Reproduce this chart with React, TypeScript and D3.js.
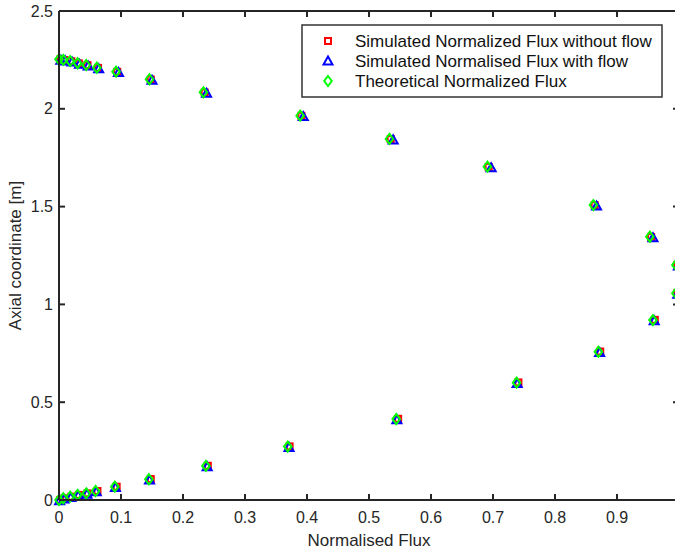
import React from "react";
import * as d3 from "d3";

// Axial positions [m] (theoretical nodes)
const axialTheory = [0, 0.009, 0.017, 0.026, 0.034, 0.046, 0.068, 0.106, 0.174, 0.273, 0.414, 0.600, 0.758, 0.920, 1.057, 1.201, 1.346, 1.508, 1.704, 1.846, 1.965, 2.084, 2.151, 2.190, 2.210, 2.224, 2.233, 2.244, 2.250, 2.253];
const fluxTheory = [0, 0.007, 0.018, 0.030, 0.044, 0.059, 0.090, 0.145, 0.237, 0.369, 0.544, 0.738, 0.870, 0.958, 0.995, 0.995, 0.953, 0.862, 0.691, 0.533, 0.389, 0.233, 0.146, 0.092, 0.061, 0.044, 0.030, 0.018, 0.007, 0.000];

const axialNoFlow = [0, 0.009, 0.017, 0.026, 0.034, 0.046, 0.068, 0.107, 0.175, 0.274, 0.415, 0.601, 0.759, 0.921, 1.057, 1.200, 1.345, 1.507, 1.703, 1.845, 1.964, 2.083, 2.150, 2.189, 2.209, 2.223, 2.232, 2.243, 2.249, 2.252];
const fluxNoFlow = [0.002, 0.009, 0.020, 0.032, 0.046, 0.062, 0.093, 0.148, 0.240, 0.372, 0.547, 0.741, 0.873, 0.961, 0.997, 0.997, 0.955, 0.864, 0.693, 0.535, 0.391, 0.235, 0.148, 0.094, 0.063, 0.046, 0.032, 0.020, 0.009, 0.002];

const axialWithFlow = [-0.004, 0.005, 0.013, 0.022, 0.030, 0.042, 0.064, 0.102, 0.170, 0.269, 0.410, 0.596, 0.754, 0.916, 1.052, 1.196, 1.341, 1.503, 1.699, 1.841, 1.960, 2.079, 2.146, 2.185, 2.205, 2.219, 2.228, 2.239, 2.245, 2.248];
const fluxWithFlow = [0.001, 0.008, 0.019, 0.031, 0.045, 0.060, 0.091, 0.146, 0.239, 0.371, 0.545, 0.739, 0.872, 0.960, 0.998, 0.999, 0.958, 0.867, 0.697, 0.539, 0.394, 0.238, 0.150, 0.096, 0.064, 0.047, 0.033, 0.021, 0.010, 0.003];

const xTicks = [0, 0.1, 0.2, 0.3, 0.4, 0.5, 0.6, 0.7, 0.8, 0.9, 1];
const xTickLabels = ["0", "0.1", "0.2", "0.3", "0.4", "0.5", "0.6", "0.7", "0.8", "0.9", "1"];
const yTicks = [0, 0.5, 1, 1.5, 2, 2.5];
const yTickLabels = ["0", "0.5", "1", "1.5", "2", "2.5"];
const legendLabels = [
  "Simulated Normalized Flux without flow",
  "Simulated Normalised Flux with flow",
  "Theoretical Normalized Flux",
];

const W = 675;
const H = 552;
const FONT = "'Liberation Sans', Arial, Helvetica, sans-serif";
const AX = "#262626";

const x = d3.scaleLinear().domain([0, 1]).range([59, 679]);
const y = d3.scaleLinear().domain([0, 2.5]).range([500, 11]);

const sq = (cx: number, cy: number) => (
  <rect x={cx - 3} y={cy - 3} width={6} height={6} fill="none" stroke="#ff0000" strokeWidth={2} />
);
const tri = (cx: number, cy: number) => (
  <path d={`M${cx},${cy - 4.5}L${cx + 4.5},${cy + 3.5}L${cx - 4.5},${cy + 3.5}Z`} fill="none" stroke="#0000ff" strokeWidth={2} strokeLinejoin="miter" />
);
const dia = (cx: number, cy: number) => (
  <path d={`M${cx},${cy - 5}L${cx + 3.8},${cy}L${cx},${cy + 5}L${cx - 3.8},${cy}Z`} fill="none" stroke="#00ff00" strokeWidth={2} />
);

export default function App() {
  const left = x(0);
  const right = x(1);
  const top = y(2.5);
  const bottom = y(0);
  return (
    <svg width={W} height={H} style={{ position: "absolute", left: 0, top: 0, background: "#fff" }} fontFamily={FONT}>
      <rect x={0} y={0} width={W} height={H} fill="#fff" />
      {/* markers */}
      <g>
        {fluxNoFlow.map((v, i) => <g key={"r" + i}>{sq(x(v), y(axialNoFlow[i]))}</g>)}
        {fluxWithFlow.map((v, i) => <g key={"b" + i}>{tri(x(v), y(axialWithFlow[i]))}</g>)}
        {fluxTheory.map((v, i) => <g key={"g" + i}>{dia(x(v), y(axialTheory[i]))}</g>)}
      </g>
      {/* axes box */}
      <g stroke={AX} strokeWidth={2} fill="none">
        <line x1={left} y1={bottom} x2={right} y2={bottom} />
        <line x1={left} y1={top} x2={right} y2={top} />
        <line x1={left} y1={top} x2={left} y2={bottom} />
        <line x1={right} y1={top} x2={right} y2={bottom} />
        {xTicks.map((t) => (
          <g key={"xt" + t}>
            <line x1={x(t)} x2={x(t)} y1={bottom} y2={bottom - 6} />
            <line x1={x(t)} x2={x(t)} y1={top} y2={top + 6} />
          </g>
        ))}
        {yTicks.map((t) => (
          <g key={"yt" + t}>
            <line x1={left} x2={left + 6} y1={y(t)} y2={y(t)} />
            <line x1={right} x2={right - 6} y1={y(t)} y2={y(t)} />
          </g>
        ))}
      </g>
      <g fontSize={16} fill={AX}>
        {xTicks.map((t, i) => (
          <text key={"xl" + t} x={x(t)} y={523} textAnchor="middle">{xTickLabels[i]}</text>
        ))}
        {yTicks.map((t, i) => (
          <text key={"yl" + t} x={53} y={y(t) + 5.6} textAnchor="end">{yTickLabels[i]}</text>
        ))}
      </g>
      <text x={(left + right) / 2} y={546} textAnchor="middle" fontSize={17} fill={AX}>Normalised Flux</text>
      <text transform={`translate(21,${(top + bottom) / 2}) rotate(-90)`} textAnchor="middle" fontSize={17} fill={AX}>Axial coordinate [m]</text>
      {/* legend */}
      <g>
        <rect x={302} y={25} width={360} height={72} fill="#fff" stroke="#333" strokeWidth={1.5} />
        {legendLabels.map((lab, i) => {
          const cy = 41 + i * 20;
          return (
            <g key={"lg" + i}>
              {i === 0 ? sq(328, cy) : i === 1 ? tri(328, cy) : dia(328, cy)}
              <text x={355} y={cy + 6} fontSize={17} fill="#111">{lab}</text>
            </g>
          );
        })}
      </g>
    </svg>
  );
}
